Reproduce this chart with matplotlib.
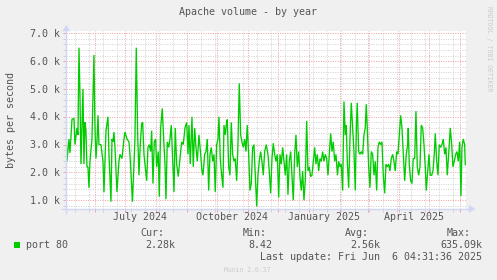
import matplotlib
matplotlib.use("Agg")
import matplotlib.pyplot as plt
import matplotlib.dates as mdates
from matplotlib.lines import Line2D
from matplotlib.patches import Polygon, Rectangle
from matplotlib.ticker import FixedLocator, MultipleLocator
import matplotlib.transforms as mtrans
from datetime import datetime, timedelta
import numpy as np

# ---------------- data ----------------
title = "Apache volume - by year"
ylabel = "bytes per second"
series_name = "port 80"
base_date = datetime(2024, 5, 2, 12)     # day offsets below count from here

days = [
    0, 1, 3, 4, 6, 8, 9, 11, 12, 13, 14, 15, 17, 18, 19, 20, 21, 22, 23, 24, 26, 28, 29, 30,
    31, 32, 33, 35, 37, 38, 40, 42, 43, 45, 46, 47, 48, 49, 51, 53, 54, 56, 58, 59, 61, 63,
    64, 66.5,
    68, 69, 70.3, 71.7, 73, 74.3, 75.7, 76.7, 78, 79.3, 80.7, 82, 83.3, 84.7, 85.7, 87, 88.3,
    89.7, 90.7, 92.3, 93.3, 94.7, 96.3, 97.7, 99, 100, 101.3, 102.7, 104, 105.3, 106.7, 108,
    109.3, 110.7, 112.3, 114, 115.7, 117.3, 119, 120.7, 122, 123, 124.3, 126, 127.3, 128.7,
    130, 131.3, 133, 134.7, 136,
    137, 138.7, 140, 141.3, 142.7, 144, 145.3, 146.7, 148, 149.3, 150.7, 152, 153, 154.3,
    155.7, 157, 158, 159.3, 160.3, 161.3, 162.7, 164, 165.3, 166.7, 168, 169.3, 170.7, 172,
    173.3, 174.7, 176, 177.3, 178.7, 180, 181.3, 182.7, 184, 185.3, 186.7, 188, 189.3, 190.7,
    192, 193.3, 194.7, 196, 197.3, 198.7, 200.3, 202, 203.3,
    204.7, 206, 207.3, 208.7, 210, 211.3, 212.7, 214, 215.3, 216.7, 218, 219.3, 220.7, 222,
    223.3, 224.7, 226, 227.3, 228.7, 230, 231.3, 232.7, 234, 235.3, 236.7, 238, 239.3, 240.7,
    242, 243.3, 244.7, 246, 247.3, 248.7, 250, 251.3, 252.7, 254, 255.3, 256.7, 258, 259.3,
    260.7, 262, 263.3, 264.7, 266, 267.3, 268.7, 270, 271.5,
    272.7, 274, 275.3, 276.7, 278, 279.3, 280.3, 281.3, 282.7, 284, 285.3, 286.7, 288, 289.3,
    290.5, 291.3, 292.7, 294, 295.3, 296.7, 298, 299.3, 300.3, 301.3, 302.7, 304, 305.3, 306.7,
    308, 309.3, 310.7, 312, 313.3, 314.7, 316, 317.3, 318.7, 320, 321.3, 322.7, 324, 325.3,
    326.7, 328, 329.3, 330.7, 332, 333.3, 334.7, 336, 337.3, 338.7,
    340.3, 341.7, 342.3, 343.3, 344.7, 346, 347.3, 348.7, 350, 351.3, 352.7, 354, 355.3,
    356.7, 358, 359.3, 360.3, 361.7, 363, 364.3, 365.7, 367, 368.3, 369.3, 370.7, 372, 373.3,
    374.7, 376, 377.3, 378.7, 380, 381.3, 382.7, 384.3, 385.7, 387, 388.3, 389.7, 391, 392.3,
    393.7, 395, 396, 397.3, 398.7, 399.3,
]

# bytes per second, in thousands
volume_k = [
    3.7, 2.4, 3.2, 2.7, 3.9, 3.95, 3.0, 3.6, 3.35, 6.48, 4.8, 2.3, 5.0, 2.3, 3.8, 3.5, 2.2, 2.2,
    1.45, 2.4, 3.2, 6.22, 3.6, 2.5, 3.1, 4.05, 3.0, 3.0, 2.4, 1.29, 3.5, 4.0, 2.65, 0.95, 3.2,
    3.1, 3.45, 2.9, 1.3, 2.4, 2.65, 2.5, 3.2, 3.45, 3.2, 3.1, 2.65, 0.95,
    2.3, 3.2, 6.48, 3.35, 1.9, 3.0, 3.75, 3.8, 2.65, 2.2, 1.7, 2.9, 3.0, 2.75, 3.5, 1.6, 3.1,
    3.2, 2.2, 2.75, 1.13, 3.6, 4.3, 3.2, 2.3, 1.04, 3.1, 2.9, 3.2, 3.7, 2.5, 1.3, 3.6, 2.3,
    1.85, 2.5, 3.1, 3.0, 3.6, 3.8, 2.65, 3.7, 2.3, 4.0, 2.2, 3.6, 2.9, 2.4, 3.35, 2.65, 2.05,
    1.9, 2.65, 2.75, 3.2, 1.35, 2.65, 2.9, 2.4, 2.65, 1.3, 3.0, 3.2, 4.0, 2.5, 1.9, 1.45, 3.7,
    3.35, 3.7, 3.9, 2.2, 1.9, 3.8, 2.65, 2.4, 2.5, 1.7, 3.0, 5.2, 3.35, 3.1, 2.9, 3.2, 2.75,
    3.7, 2.65, 1.35, 1.6, 2.9, 3.0, 1.9, 0.78, 1.9, 2.4, 2.75, 2.4, 1.9, 2.75, 3.0, 2.65, 2.05,
    1.25, 2.5, 3.05, 2.65, 2.4, 2.65, 1.1, 2.65, 2.3, 2.9, 2.4, 1.9, 2.65, 1.2, 2.4, 2.75, 1.85,
    1.0, 2.65, 3.35, 2.2, 2.75, 1.85, 1.35, 2.05, 1.0, 1.7, 3.85, 2.05, 2.2, 1.85, 1.9, 2.4,
    2.9, 2.3, 2.65, 2.05, 2.5, 2.4, 2.75, 2.4, 2.65, 2.5, 1.9, 2.65, 3.4, 2.75, 3.1, 2.4, 2.65,
    1.9,
    2.4, 2.2, 2.3, 1.35, 4.55, 3.35, 3.7, 2.4, 1.45, 3.2, 4.5, 3.6, 2.75, 1.35, 3.8, 4.5, 2.75,
    2.65, 2.75, 2.65, 3.35, 3.6, 4.45, 3.6, 2.2, 1.45, 2.75, 2.65, 1.9, 2.4, 1.35, 2.9, 3.1,
    3.0, 3.1, 1.9, 1.25, 2.3, 2.2, 2.3, 2.05, 2.5, 2.65, 2.4, 2.05, 2.75, 2.65, 3.35, 4.05,
    3.6, 2.65, 1.7,
    2.65, 3.0, 3.6, 2.3, 1.7, 1.6, 2.5, 2.5, 4.2, 2.2, 1.9, 2.2, 3.7, 3.6, 3.0, 2.2, 1.35,
    2.05, 2.65, 1.9, 1.9, 2.05, 2.65, 3.4, 2.4, 1.9, 3.0, 2.9, 3.0, 3.2, 2.65, 2.9, 1.9, 2.65,
    3.6, 3.0, 2.2, 2.4, 2.65, 2.75, 2.4, 3.1, 1.15, 2.9, 3.2, 3.0, 2.28,
]

x_labels = ["July 2024", "October 2024", "January 2025", "April 2025"]
x_label_dates = [datetime(2024, 7, 16), datetime(2024, 10, 16),
                 datetime(2025, 1, 16), datetime(2025, 4, 16)]
y_ticks = [1, 2, 3, 4, 5, 6, 7]
y_tick_labels = ["1.0 k", "2.0 k", "3.0 k", "4.0 k", "5.0 k", "6.0 k", "7.0 k"]

legend_headers = ["Cur:", "Min:", "Avg:", "Max:"]
legend_values = ["2.28k", "8.42", "2.56k", "635.09k"]
last_update = "Last update: Fri Jun  6 04:31:36 2025"
munin_version = "Munin 2.0.37"
watermark = "RRDTOOL / TOBI OETIKER"

# ---------------- style ----------------
W, H = 497, 280
BG = "#F0F0F0"
LINE = "#00CC00"
AXIS = "#CFD6F8"
GRID = "#D2D2D2"
MGRID = "#EFA3A3"
FONT = "#555555"
MONO = ["DejaVu Sans Mono"]
FS = 7.2
PX = 0.72  # one pixel in points

fig = plt.figure(figsize=(W / 100, H / 100), dpi=100, facecolor=BG)

L, R, T, B = 66.3, 466.3, 31.0, 209.0
ax = fig.add_axes([L / W, 1 - B / H, (R - L) / W, (B - T) / H])
ax.set_facecolor("white")

x0 = datetime(2024, 5, 2, 20)
x1 = x0 + timedelta(days=400)
ax.set_xlim(mdates.date2num(x0), mdates.date2num(x1))
ax.set_ylim(0.687, 7.08)

# grids
month_starts = [datetime(2024 + (5 + k) // 12, (5 + k) % 12 + 1, 1) for k in range(13)]
biweekly = [datetime(2024, 5, 12) + timedelta(days=14 * k) for k in range(29)]
ax.xaxis.set_major_locator(FixedLocator(mdates.date2num(month_starts)))
ax.xaxis.set_minor_locator(FixedLocator(mdates.date2num(biweekly)))
ax.yaxis.set_major_locator(FixedLocator(y_ticks))
ax.yaxis.set_minor_locator(MultipleLocator(0.2))
ax.set_xticklabels([])
ax.set_yticklabels([])
ax.tick_params(axis="both", which="major", length=2.6 * PX, width=PX, color=MGRID, direction="out")
ax.tick_params(axis="both", which="minor", length=2.6 * PX, width=PX, color=GRID, direction="out")
ax.grid(which="minor", color=GRID, linestyle=(0, (1, 1.4)), linewidth=PX, zorder=0)
ax.grid(which="major", color=MGRID, linestyle=(0, (1, 1.4)), linewidth=PX, zorder=0)
ax.set_axisbelow(True)
for s in ax.spines.values():
    s.set_visible(False)

# data line
xdates = [mdates.date2num(base_date + timedelta(days=d)) for d in days]
ax.plot(xdates, volume_k, color=LINE, linewidth=0.95, zorder=3, solid_joinstyle="miter")

# axes lines and arrows (pixel coordinates on figure)
def fp(x, y):
    return (x / W, 1 - y / H)

fig.add_artist(Line2D([fp(62, 209)[0], fp(470, 209)[0]], [fp(62, 209)[1]] * 2,
                      color=AXIS, linewidth=1.4 * PX, transform=fig.transFigure))
fig.add_artist(Line2D([fp(66.3, 213)[0]] * 2, [fp(66.3, 213)[1], fp(66.3, 28)[1]],
                      color=AXIS, linewidth=1.4 * PX, transform=fig.transFigure))
fig.add_artist(Polygon([fp(469, 205.5), fp(475, 209), fp(469, 212.5)], closed=True,
                       facecolor=AXIS, edgecolor=AXIS, linewidth=0.3, transform=fig.transFigure))
fig.add_artist(Polygon([fp(62.8, 31), fp(66.3, 25.5), fp(69.8, 31)], closed=True,
                       facecolor=AXIS, edgecolor=AXIS, linewidth=0.3, transform=fig.transFigure))

# y tick labels
ytrans = mtrans.offset_copy(ax.get_yaxis_transform(), fig=fig, x=0, y=-3.6, units="dots")
for v, lab in zip(y_ticks, y_tick_labels):
    ax.text((59.6 - L) / (R - L), v, lab, transform=ytrans, ha="right", va="baseline",
            family=MONO, fontsize=FS, color=FONT)

# x labels
for d, lab in zip(x_label_dates, x_labels):
    ax.text(mdates.date2num(d), (B - 219.6) / (B - T), lab, transform=ax.get_xaxis_transform(),
            ha="center", va="baseline", family=MONO, fontsize=FS, color=FONT)

# title
fig.text(*fp(248, 14.6), title, ha="center", va="baseline", family=MONO, fontsize=FS, color=FONT)

# y axis label
fig.text(*fp(14.2, 120), ylabel, rotation=90, rotation_mode="anchor", ha="center",
         va="baseline", family=MONO, fontsize=FS, color=FONT)

# legend
fig.add_artist(Rectangle(fp(14, 248.3), 6 / W, 6 / H, facecolor=LINE, edgecolor="none",
                         transform=fig.transFigure))
fig.text(*fp(25.7, 248), series_name, ha="left", va="baseline", family=MONO, fontsize=FS, color=FONT)
header_x = [140, 242.7, 344.7, 446.7]
value_x = [145.7, 248.3, 350.3, 440.7]
for hx, hd in zip(header_x, legend_headers):
    fig.text(*fp(hx, 235.7), hd, ha="left", va="baseline", family=MONO, fontsize=FS, color=FONT)
for vx, vl in zip(value_x, legend_values):
    fig.text(*fp(vx, 248), vl, ha="left", va="baseline", family=MONO, fontsize=FS, color=FONT)
fig.text(*fp(260.3, 259.8), last_update, ha="left", va="baseline", family=MONO, fontsize=FS, color=FONT)

# footer / watermark
fig.text(*fp(224, 271.5), munin_version, ha="left", va="baseline", family=MONO, fontsize=4.7,
         color="#CCCCCC")
fig.text(*fp(486.5, 48.3), watermark, rotation=270, rotation_mode="anchor", ha="center",
         va="baseline", family=MONO, fontsize=4.7, color="#CCCCCC")

fig.savefig("out.png", dpi=100, facecolor=BG)
